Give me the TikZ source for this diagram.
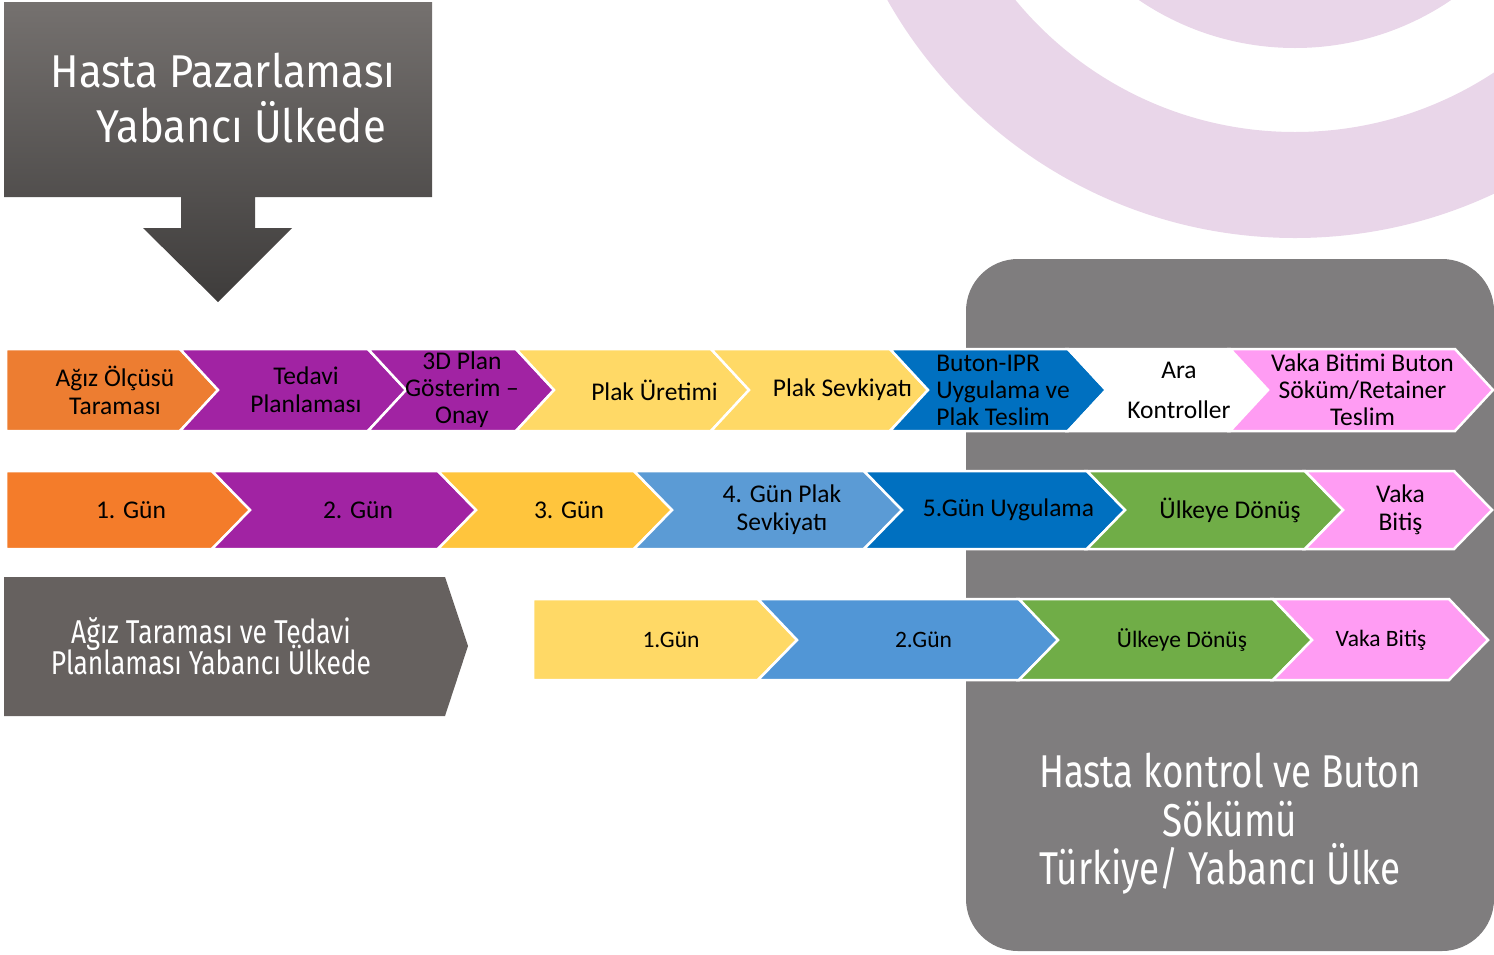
\documentclass[tikz,border=0pt]{standalone}
\usepackage{fontspec}
\setmainfont{Carlito}
\newfontfamily\titlefont[FakeStretch=0.91]{Fira Sans}
\newfontfamily\condfont[FakeStretch=0.8]{Fira Sans}
\newcommand{\tightskip}{\lineskiplimit=-20pt\relax}

\definecolor{ringpink}{HTML}{E9D6E9}
\definecolor{boxgray}{HTML}{7F7D7E}
\definecolor{chevgray}{HTML}{66615F}
\definecolor{titletop}{HTML}{75716F}
\definecolor{titlebot}{HTML}{3E3C3B}
\definecolor{orangeA}{HTML}{ED7D31}
\definecolor{orangeB}{HTML}{F47C2A}
\definecolor{purpleA}{HTML}{A123A3}
\definecolor{yellowA}{HTML}{FFD966}
\definecolor{goldA}{HTML}{FFC53D}
\definecolor{blueA}{HTML}{0070C0}
\definecolor{blueB}{HTML}{5B9BD5}
\definecolor{blueC}{HTML}{5196D6}
\definecolor{greenA}{HTML}{70AD47}
\definecolor{pinkA}{HTML}{FF9CF3}

\tikzset{
  chevbox/.style={draw=white, line width=2.5pt, line join=miter},
  chevtext/.style={text=black, align=center, inner sep=0pt, font=\fontsize{25.5}{28}\selectfont},
  smalltext/.style={font=\fontsize{23.5}{26}\selectfont},
  bigtext/.style={text=white, align=center, inner sep=0pt},
}

% #1 node options, #2 name, #3 fill, #4 left x, #5 shoulder x, #6 notch depth, #7 text
\newcommand{\chev}[7][]{%
  \filldraw[chevbox, fill=#3] (#4,\rowtop) -- (#5,\rowtop) -- ({#5+\dep},\rowmid) -- (#5,\rowbot) -- (#4,\rowbot) -- ({#4+#6},\rowmid) -- cycle;
  \node[chevtext,#1] (#2) at ({(#4+#5+#6+\dep)/2},\rowmid) {#7};
}

\begin{document}
\begin{tikzpicture}[x=1pt,y=-1pt]
  \useasboundingbox (0,0) rectangle (1494,954);

  \begin{scope}
    \clip (0,0) rectangle (1494,954);
    \fill[ringpink, even odd rule] (1295,-230) circle[radius=468pt] (1295,-230) circle[radius=362pt];
    \fill[ringpink] (1295,-230) circle[radius=278pt];
  \end{scope}

  \fill[boxgray, rounded corners=52pt] (966,259) rectangle (1494,951);
  \node[bigtext, font=\condfont\fontsize{46}{48.5}\selectfont] (kontrol) at (1230,824)
    {Hasta kontrol ve Buton\\Sökümü\\Türkiye/ Yabancı Ülke\hspace*{20pt}};

  \shade[top color=titletop, bottom color=titlebot]
    (4,2) -- (432,2) -- (432,197) -- (255,197) -- (255,228) -- (292,228) -- (218,302)
    -- (143,228) -- (181,228) -- (181,197) -- (4,197) -- cycle;
  \node[bigtext, font=\titlefont\fontsize{46}{55}\selectfont] (title) at (223,98)
    {Hasta Pazarlaması\\\hspace*{0.8em}Yabancı Ülkede};

  \fill[chevgray] (4,577) -- (445,577) -- (468,646) -- (445,716) -- (4,716) -- cycle;
  \node[bigtext, font=\condfont\fontsize{33}{31}\selectfont\tightskip] (yerel) at (211,646)
    {Ağız Taraması ve Tedavi\\Planlaması Yabancı Ülkede};

  \def\rowtop{349}\def\rowbot{431}\def\rowmid{390}\def\dep{38}
  \chev[xshift=3pt]{scan}{orangeA}{6}{180}{0}{Ağız Ölçüsü\\Taraması}
  \chev[xshift=-6pt]{plan}{purpleA}{180}{368}{38}{Tedavi\\Planlaması}
  \chev[xshift=-18pt, font=\fontsize{25.5}{27}\selectfont]{onay}{purpleA}{368}{516}{38}{3D Plan\\Gösterim –\\Onay}
  \chev[xshift=3pt]{uretim}{yellowA}{516}{711}{38}{Plak Üretimi}
  \chev[xshift=4pt]{sevk}{yellowA}{711}{890}{38}{Plak Sevkiyatı}
  \chev[xshift=-14pt, align=left, font=\fontsize{25.5}{27}\selectfont]{buton}{blueA}{890}{1068}{38}{Buton-IPR\\Uygulama ve\\Plak Teslim}
  \chev[xshift=-8pt]{ara}{white}{1068}{1230}{38}{Ara\\[12pt]Kontroller}
  \chev[xshift=-18pt, font=\fontsize{25.5}{27}\selectfont]{bitim}{pinkA}{1230}{1455}{38}{Vaka Bitimi Buton\\Söküm/Retainer\\Teslim}

  \def\rowtop{471}\def\rowbot{549}\def\rowmid{510}\def\dep{38}
  \chev[xshift=3pt]{gun1}{orangeB}{6}{212}{0}{1. Gün}
  \chev[xshift=-5pt]{gun2}{purpleA}{212}{438}{38}{2. Gün}
  \chev[xshift=-5pt]{gun3}{goldA}{438}{634}{38}{3. Gün}
  \chev[xshift=-5pt]{gun4}{blueB}{634}{864}{38}{4. Gün Plak\\Sevkiyatı}
  \chev[xshift=-5pt]{gun5}{blueA}{864}{1087}{38}{5.Gün Uygulama}
  \chev[xshift=-4pt]{donus}{greenA}{1087}{1305}{38}{Ülkeye Dönüş}
  \chev[xshift=-17pt]{bitis}{pinkA}{1305}{1454}{38}{Vaka\\Bitiş}

  \def\rowtop{599}\def\rowbot{680}\def\rowmid{640}\def\dep{39}
  \chev[smalltext, xshift=6pt]{ugun1}{yellowA}{533}{758}{0}{1.Gün}
  \chev[smalltext, xshift=-4pt]{ugun2}{blueC}{758}{1019}{39}{2.Gün}
  \chev[smalltext, xshift=-3pt]{udonus}{greenA}{1019}{1273}{39}{Ülkeye Dönüş}
  \chev[smalltext, xshift=-19pt]{ubitis}{pinkA}{1273}{1449}{39}{Vaka Bitiş}
\end{tikzpicture}
\end{document}
